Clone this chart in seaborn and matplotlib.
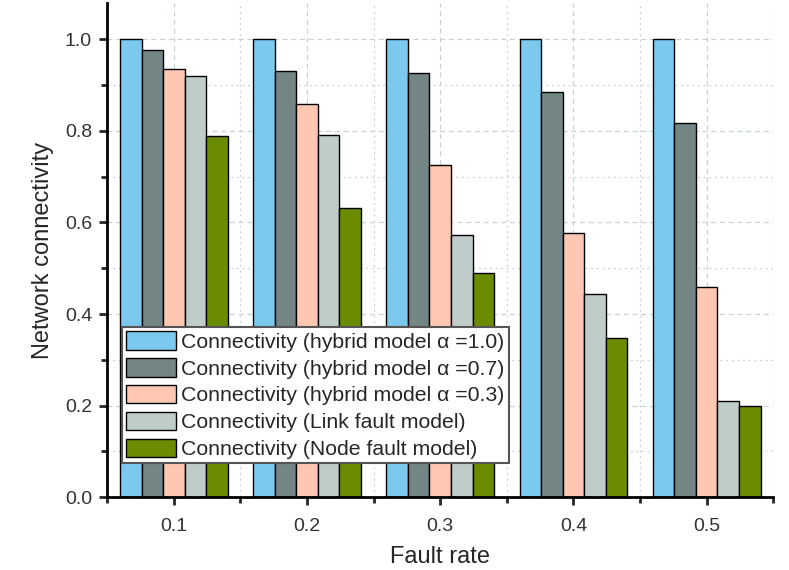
import matplotlib
matplotlib.use("Agg")
import matplotlib.pyplot as plt
import numpy as np
import pandas as pd
import seaborn as sns
from matplotlib.ticker import MultipleLocator, FixedLocator

fault_rates = ["0.1", "0.2", "0.3", "0.4", "0.5"]
series_names = [
    "Connectivity (hybrid model \u03b1 =1.0)",
    "Connectivity (hybrid model \u03b1 =0.7)",
    "Connectivity (hybrid model \u03b1 =0.3)",
    "Connectivity (Link fault model)",
    "Connectivity (Node fault model)",
]
hybrid_10 = [1.0, 1.0, 1.0, 1.0, 1.0]
hybrid_07 = [0.978, 0.931, 0.927, 0.886, 0.818]
hybrid_03 = [0.935, 0.859, 0.726, 0.578, 0.459]
link_fault = [0.921, 0.792, 0.573, 0.443, 0.210]
node_fault = [0.790, 0.631, 0.490, 0.348, 0.199]
colors = ["#7BC9EE", "#738584", "#FFC6B1", "#C0CCCA", "#6B8B00"]

rows = []
for name, vals in zip(series_names, [hybrid_10, hybrid_07, hybrid_03, link_fault, node_fault]):
    for fr, v in zip(fault_rates, vals):
        rows.append({"Fault rate": fr, "series": name, "value": v})
df = pd.DataFrame(rows)

sns.set_style("white")
plt.rcParams["font.family"] = ["Liberation Sans", "DejaVu Sans"]

fig = plt.figure(figsize=(7.89, 5.70), dpi=100)
ax = fig.add_axes([0.136, 0.128, 0.844, 0.867])

sns.barplot(data=df, x="Fault rate", y="value", hue="series", order=fault_rates,
            hue_order=series_names, palette=colors, saturation=1, width=0.81,
            edgecolor="black", linewidth=1.0, ax=ax, zorder=2)

ax.set_ylim(0, 1.08)
ax.set_xlim(-0.5, 4.5)

# grid
ax.yaxis.set_major_locator(MultipleLocator(0.2))
ax.yaxis.set_minor_locator(MultipleLocator(0.1))
ax.xaxis.set_minor_locator(FixedLocator([-0.5, 0.5, 1.5, 2.5, 3.5, 4.5]))
ax.grid(which="major", color="#C8D2D0", linestyle=(0, (4, 3)), linewidth=0.9, zorder=0)
ax.grid(which="minor", color="#C8D2D0", linestyle=(0, (1.5, 3)), linewidth=0.9, zorder=0)
ax.set_axisbelow(True)

for s in ["top", "right"]:
    ax.spines[s].set_visible(False)
for s in ["left", "bottom"]:
    ax.spines[s].set_linewidth(2)
    ax.spines[s].set_color("black")

ax.tick_params(which="major", direction="out", length=6, width=2, labelsize=14,
               labelcolor="#333333", left=True, bottom=True)
ax.tick_params(which="minor", direction="out", length=4, width=2, left=True, bottom=True)
ax.tick_params(axis="x", pad=9)
ax.tick_params(axis="y", pad=5)
ax.yaxis.set_major_formatter(matplotlib.ticker.FormatStrFormatter("%.1f"))

ax.set_xlabel("Fault rate", fontsize=17, labelpad=8)
ax.set_ylabel("Network connectivity", fontsize=17, labelpad=8)

leg = ax.legend(loc="lower left", bbox_to_anchor=(0.022, 0.068), fontsize=15.3,
                frameon=True, fancybox=False, edgecolor="#555555", framealpha=1,
                handlelength=2.35, handleheight=0.95, handletextpad=0.25,
                labelspacing=0.3, borderpad=0.2, borderaxespad=0)
leg.get_frame().set_linewidth(1.5)

fig.savefig("out.png", dpi=100)
